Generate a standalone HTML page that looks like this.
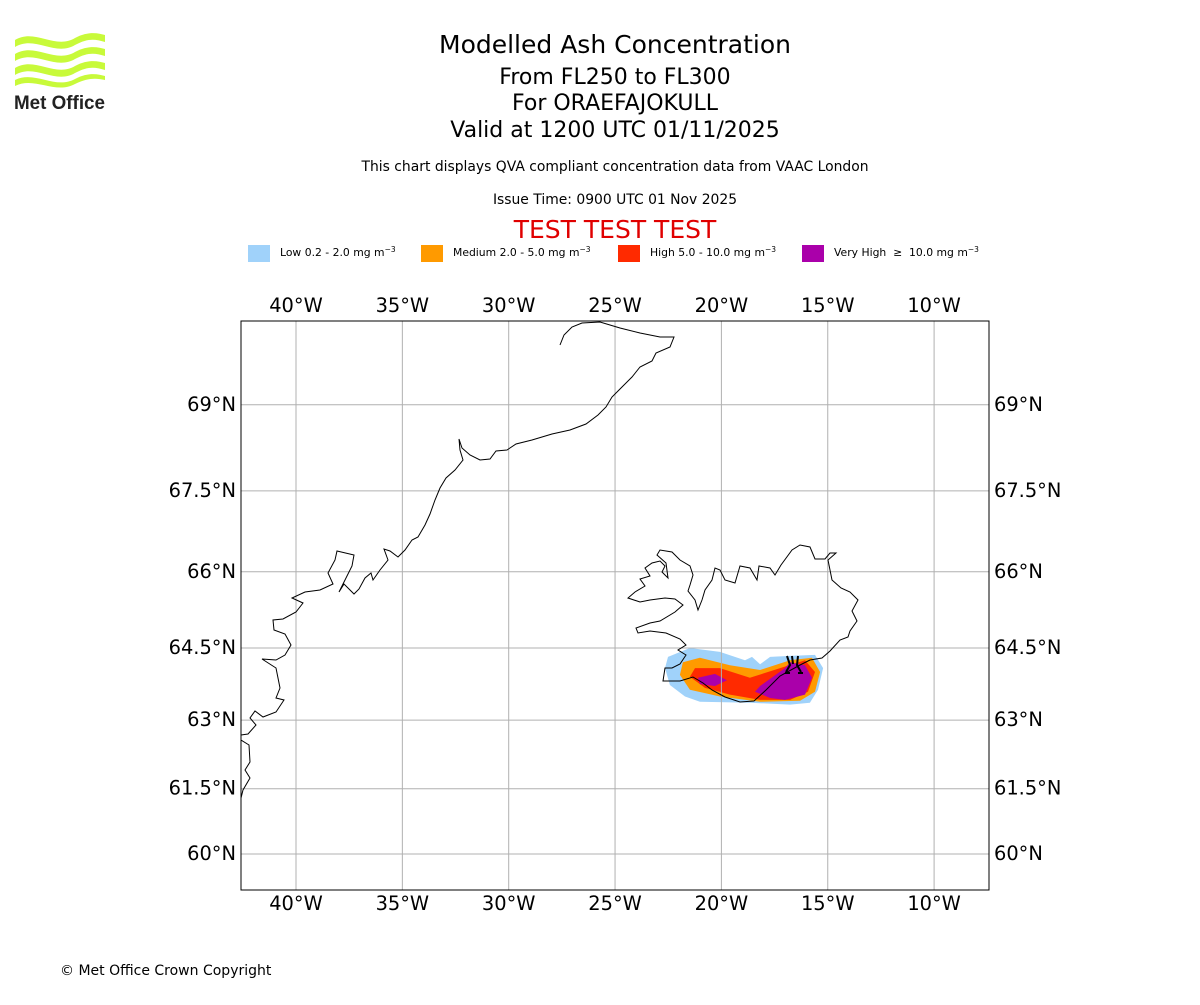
<!DOCTYPE html>
<html><head><meta charset="utf-8">
<style>
body{margin:0;background:#fff;width:1200px;height:1000px;overflow:hidden;font-family:"Liberation Sans","DejaVu Sans",sans-serif;}
svg text{font-family:"DejaVu Sans","Liberation Sans",sans-serif;}
</style></head>
<body>
<svg id="chart" width="1200" height="1000" xmlns="http://www.w3.org/2000/svg">
  <g>
    <path d="M15,40 C35,28 55,50 75,38 C88,31 98,33 105,35 L105,42 C95,39 88,38 75,45 C55,57 35,35 15,47Z" fill="#c8fa3a"/>
    <path d="M15,54 C35,42 55,64 75,52 C88,45 98,47 105,49 L105,56 C95,53 88,52 75,59 C55,71 35,49 15,61Z" fill="#c8fa3a"/>
    <path d="M15,68 C35,56 55,78 75,66 C88,59 98,61 105,63 L105,70 C95,67 88,66 75,73 C55,85 35,63 15,75Z" fill="#c8fa3a"/>
    <path d="M15,80 C35,70 55,90 75,79 C88,72 98,74 105,76 L105,80 C95,78 88,78 75,84 C55,95 35,76 15,86Z" fill="#c8fa3a"/>
    <text x="14" y="109" font-size="19" font-weight="bold" fill="#222" style="font-family:'Liberation Sans',sans-serif" textLength="91" lengthAdjust="spacingAndGlyphs">Met Office</text>
  </g>
  <g text-anchor="middle" fill="#000">
    <text x="615" y="53" font-size="25">Modelled Ash Concentration</text>
    <text x="615" y="84" font-size="22">From FL250 to FL300</text>
    <text x="615" y="110" font-size="22">For ORAEFAJOKULL</text>
    <text x="615" y="137" font-size="22">Valid at 1200 UTC 01/11/2025</text>
    <text x="615" y="171" font-size="13.9">This chart displays QVA compliant concentration data from VAAC London</text>
    <text x="615" y="204" font-size="13.9">Issue Time: 0900 UTC 01 Nov 2025</text>
    <text x="615" y="238" font-size="25" fill="#e00000">TEST TEST TEST</text>
  </g>
  <g id="legend" font-size="10.8"></g>
  <g id="map"></g>
  <text x="60" y="975" font-size="14">© Met Office Crown Copyright</text>
</svg>
<script>
const lonTicks=[-40,-35,-30,-25,-20,-15,-10];
const latTicks=[60,61.5,63,64.5,66,67.5,69];
const legendLabels=["Low 0.2 - 2.0 mg m","Medium 2.0 - 5.0 mg m","High 5.0 - 10.0 mg m","Very High  \u2265  10.0 mg m"];
const legendColors=["#a0d2fa","#ff9a00","#ff2a00","#aa00aa"];
const plumeLow=[[-22.51,64.32],[-21.48,64.5],[-20.07,64.42],[-18.89,64.25],[-18.56,64.32],[-18.18,64.17],[-17.71,64.32],[-16.77,64.34],[-15.6,64.36],[-15.22,64.09],[-15.46,63.64],[-15.84,63.37],[-16.77,63.33],[-18.66,63.37],[-21.01,63.39],[-21.71,63.5],[-22.42,63.74],[-22.65,64.09]];
const plumeMed=[[-21.81,64.21],[-21.01,64.3],[-19.6,64.15],[-18.18,64.05],[-16.77,64.25],[-15.74,64.3],[-15.36,64.01],[-15.6,63.6],[-16.3,63.41],[-18.18,63.39],[-20.07,63.5],[-21.48,63.64],[-21.95,63.95]];
const plumeHigh=[[-21.24,64.09],[-20.07,64.09],[-18.66,63.89],[-17.24,64.09],[-16.07,64.25],[-15.6,64.01],[-15.93,63.6],[-16.77,63.43],[-18.18,63.43],[-19.6,63.54],[-20.77,63.68],[-21.48,63.91]];
const plumeVH1=[[-21.1,63.89],[-20.3,63.97],[-19.74,63.84],[-20.3,63.72],[-21.01,63.76]];
const plumeVH2=[[-18.18,63.72],[-17.01,64.09],[-16.77,64.21],[-16.07,64.15],[-15.74,63.89],[-16.07,63.54],[-17.01,63.43],[-17.71,63.47],[-18.42,63.6]];

const NS="http://www.w3.org/2000/svg";
const L=241,T=321,R=989,B=890;
const K=21.27*180/Math.PI;
const merc=lat=>Math.log(Math.tan(Math.PI/4+lat*Math.PI/360));
const xS=lon=>296+(lon+40)*21.27;
const yS=lat=>854-(merc(lat)-merc(60))*K;
function mk(tag,attrs,parent){const e=document.createElementNS(NS,tag);for(const k in attrs)e.setAttribute(k,attrs[k]);parent.appendChild(e);return e;}

const lg=document.getElementById('legend');
const lx=[248,421,618,802];
legendLabels.forEach((t,i)=>{
  const r=mk('rect',{x:lx[i],y:245,width:22,height:17,fill:legendColors[i]},lg);
  
  
  const tx=mk('text',{x:lx[i]+32,y:256,'xml:space':'preserve'},lg);
  
  
  tx.style.whiteSpace='pre';
  tx.textContent=t;
  const s=mk('tspan',{dy:-4,'font-size':7.5},tx);s.textContent='\u22123';
});

const map=document.getElementById('map');
const cp=mk('clipPath',{id:'clip'},map);
mk('rect',{x:L,y:T,width:R-L,height:B-T},cp);
const inner=mk('g',{'clip-path':'url(#clip)'},map);

function poly(arr,fill,name){
  const p=mk('polygon',{points:arr.map(d=>xS(d[0]).toFixed(1)+','+yS(d[1]).toFixed(1)).join(' '),fill:fill},inner);
  
  
}
poly(plumeLow,legendColors[0],'plume-low');
poly(plumeMed,legendColors[1],'plume-medium');
poly(plumeHigh,legendColors[2],'plume-high');
poly(plumeVH1,legendColors[3],'plume-very-high-west');
poly(plumeVH2,legendColors[3],'plume-very-high-east');

lonTicks.forEach(v=>{
  const l=mk('line',{x1:xS(v),x2:xS(v),y1:T,y2:B,stroke:'#b0b0b0','stroke-width':1},inner);
  
  
  ['top','bottom'].forEach(p=>{
    const t=mk('text',{x:xS(v),y:p=='top'?312:910,'text-anchor':'middle','font-size':19.4},map);
    
    
    t.textContent=Math.abs(v)+'°W';
  });
});
latTicks.forEach(v=>{
  const l=mk('line',{x1:L,x2:R,y1:yS(v),y2:yS(v),stroke:'#b0b0b0','stroke-width':1},inner);
  
  
  const t1=mk('text',{x:236,y:yS(v)+6,'text-anchor':'end','font-size':19.4},map);
  
  
  t1.textContent=v+'°N';
  const t2=mk('text',{x:994,y:yS(v)+6,'font-size':19.4},map);
  
  
  t2.textContent=v+'°N';
});

const gl="M560,345 L564,335 L572,327 L582,323 L600,322 L620,328 L640,333 L660,337 L674,337 L670,347 L656,353 L652,361 L640,367 L632,377 L620,389 L612,397 L606,407 L598,415 L586,424 L570,430 L552,434 L532,440 L516,444 L507,450 L496,451 L490,459 L480,460 L470,455 L462,448 L459,439 L460,450 L463,460 L455,470 L446,478 L440,488 L435,500 L430,514 L425,525 L418,537 L412,540 L405,550 L398,557 L390,551 L384,549 L388,560 L380,570 L373,580 L371,573 L365,578 L359,589 L354,594 L350,590 L344,584 L339,592 L345,580 L352,566 L354,555 L337,551 L335,560 L328,573 L333,584 L320,590 L305,592 L292,598 L303,603 L296,612 L283,619 L273,620 L274,630 L285,634 L291,645 L285,655 L276,660 L262,659 L276,668 L280,688 L276,698 L284,700 L276,712 L263,717 L255,711 L250,718 L256,725 L248,734 L241,735 M241,740 L249,745 L250,762 L245,770 L250,778 L243,790 L241,798";
const ic="M663,681 L665,668 L672,668 L680,664 L686,655 L678,650 L686,645 L680,639 L666,633 L650,631 L638,633 L636,628 L650,623 L660,621 L675,612 L683,605 L675,599 L665,598 L650,600 L640,602 L628,598 L635,592 L645,586 L640,579 L650,576 L645,568 L652,563 L660,561 L665,566 L662,572 L668,578 L666,563 L657,555 L660,550 L672,552 L680,560 L690,566 L693,575 L690,585 L688,591 L695,600 L698,610 L702,600 L705,590 L712,580 L715,568 L720,570 L725,580 L735,583 L740,566 L750,568 L757,580 L759,566 L770,568 L775,575 L781,565 L792,550 L800,545 L810,547 L815,559 L825,559 L830,553 L836,553 L828,560 L832,580 L841,588 L850,592 L858,600 L852,611 L857,621 L850,631 L848,637 L840,640 L830,651 L822,658 L810,660 L800,665 L780,676 L766,690 L754,701 L740,702 L725,697 L712,690 L703,683 L693,677 L680,681 L663,681Z";
const cg=mk('path',{d:gl,fill:'none',stroke:'#000','stroke-width':1},inner);


const ci=mk('path',{d:ic,fill:'none',stroke:'#000','stroke-width':1},inner);


const vm=mk('path',{d:"M787,656 L790,665 L786,672 M792,656 L793,664 M798,656 L797,665 L801,672 M785,673 L790,673 M798,673 L803,673",fill:'none',stroke:'#000','stroke-width':2},inner);



const fr=mk('rect',{x:L,y:T,width:R-L,height:B-T,fill:'none',stroke:'#000','stroke-width':1},map);


</script>
</body></html>
